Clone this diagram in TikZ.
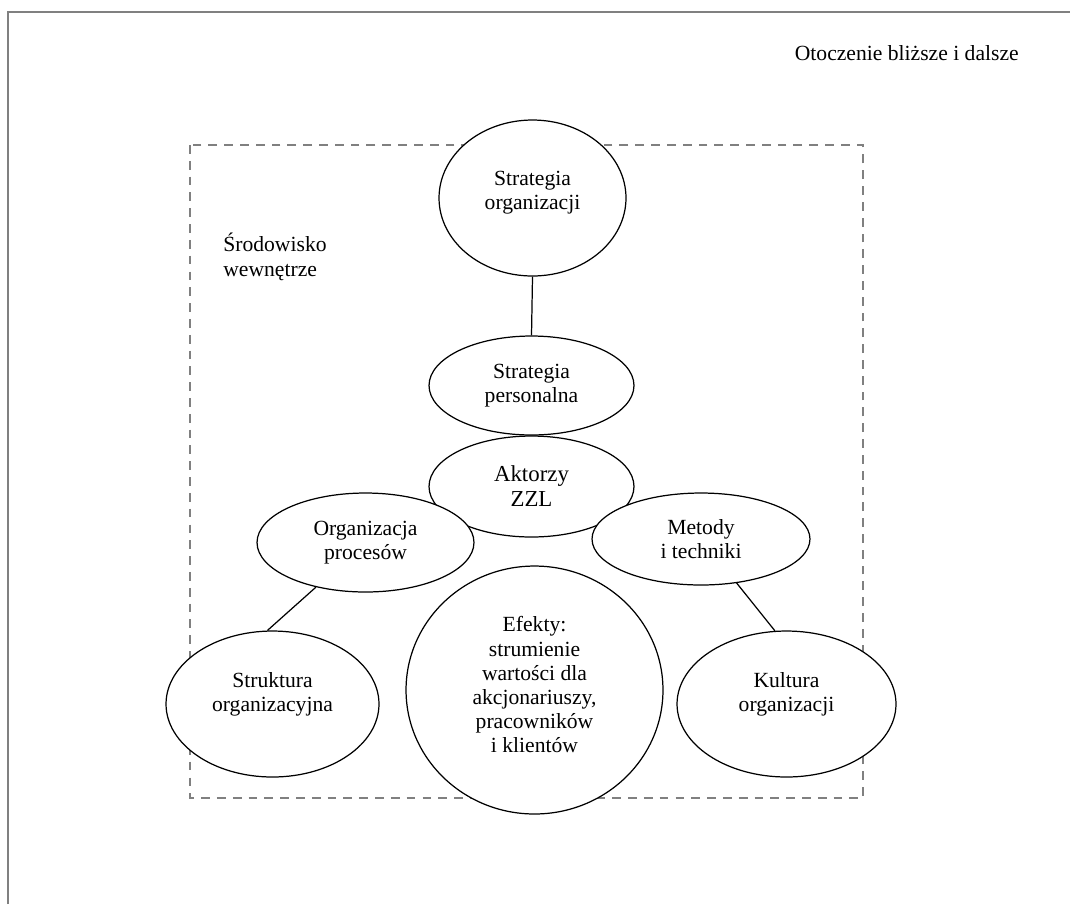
\documentclass[tikz,border=0pt]{standalone}
\usepackage{fontspec}
\setmainfont{Liberation Serif}
\usetikzlibrary{shapes.geometric}
\tikzset{
  oval/.style  = {draw, ellipse, fill=white, line width=0.7pt, inner sep=0pt,
                  align=center, font=\fontsize{12.3}{13.7}\selectfont},
  link/.style  = {line width=0.7pt},
  zone/.style  = {draw=gray, dash pattern=on 5pt off 4pt, line width=1.1pt},
  plain/.style = {font=\fontsize{12.3}{13.7}\selectfont}
}
\begin{document}
\begin{tikzpicture}[x=0.02cm, y=-0.02cm]
\useasboundingbox (0,0) rectangle (1070,904);
% otoczenie
\draw[gray, line width=1.5pt] (8,904) -- (8,12) -- (1070,12);
\node[plain, anchor=base east, inner sep=0pt] (oto) at (1019,60) {Otoczenie bliższe i dalsze};
% srodowisko wewnetrzne
\draw[zone] (190,145) rectangle (863,798);
\node[plain, anchor=base west, align=left, inner sep=0pt] (sro) at (223,276) {Środowisko\\wewnętrze};
% elementy
\node[oval, minimum width=3.74cm, minimum height=3.12cm, text depth=0.32cm] (so) at (532.5,198) {Strategia\\organizacji};
\node[oval, minimum width=4.10cm, minimum height=1.98cm] (sp) at (531.5,385.5) {Strategia\\personalna};
\node[oval, minimum width=4.10cm, minimum height=2.02cm, font=\fontsize{13}{14.2}\selectfont] (ak) at (531.5,486.5) {Aktorzy\\ZZL};
\node[oval, minimum width=4.34cm, minimum height=1.98cm] (op) at (365.5,542.5) {Organizacja\\procesów};
\node[oval, minimum width=4.36cm, minimum height=1.84cm] (mt) at (701,539) {Metody\\i techniki};
\node[oval, minimum width=4.26cm, minimum height=2.92cm, text depth=0.48cm] (st) at (272.5,704) {Struktura\\organizacyjna};
\node[oval, minimum width=4.38cm, minimum height=2.92cm, text depth=0.48cm] (ku) at (786.5,704) {Kultura\\organizacji};
\node[oval, minimum width=5.14cm, minimum height=4.96cm, text depth=0.22cm] (ef) at (534.5,690) {Efekty:\\strumienie\\wartości dla\\akcjonariuszy,\\pracowników\\i klientów};
% powiazania
\draw[link] (so.south) -- (sp.north);
\draw[link] (op.222) -- (st.94);
\draw[link] (mt.309) -- (ku.99);
\end{tikzpicture}
\end{document}
